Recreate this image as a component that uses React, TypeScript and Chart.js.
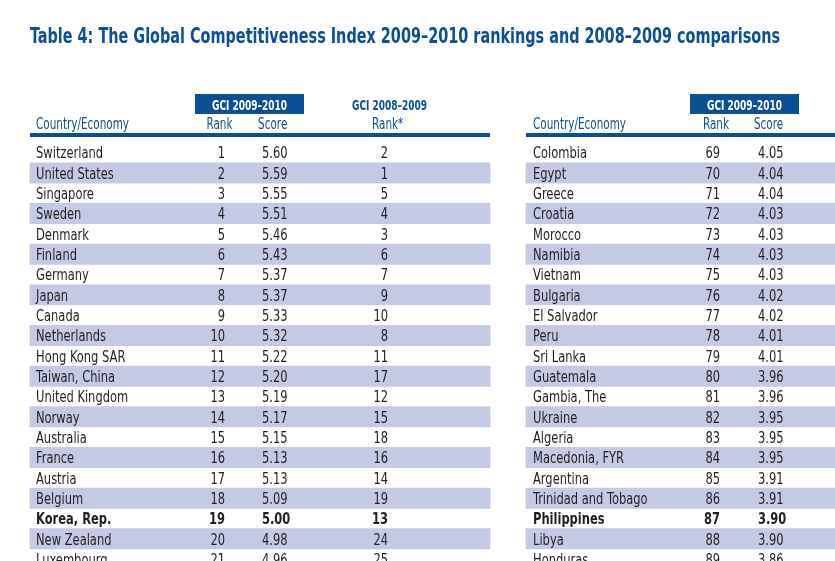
import React, { useEffect, useRef } from "react";
import { Chart, registerables } from "chart.js";
Chart.register(...registerables);

const TITLE = "Table 4: The Global Competitiveness Index 2009–2010 rankings and 2008–2009 comparisons";
const GROUP_CUR = "GCI 2009–2010";
const GROUP_PREV = "GCI 2008–2009";
const COL_COUNTRY = "Country/Economy";
const COL_RANK = "Rank";
const COL_SCORE = "Score";
const COL_PREV_RANK = "Rank*";

const leftCountries = [
  "Switzerland", "United States", "Singapore", "Sweden", "Denmark", "Finland", "Germany",
  "Japan", "Canada", "Netherlands", "Hong Kong SAR", "Taiwan, China", "United Kingdom",
  "Norway", "Australia", "France", "Austria", "Belgium", "Korea, Rep.", "New Zealand", "Luxembourg",
];
const leftRank = [1, 2, 3, 4, 5, 6, 7, 8, 9, 10, 11, 12, 13, 14, 15, 16, 17, 18, 19, 20, 21];
const leftScore = [5.60, 5.59, 5.55, 5.51, 5.46, 5.43, 5.37, 5.37, 5.33, 5.32, 5.22, 5.20, 5.19, 5.17, 5.15, 5.13, 5.13, 5.09, 5.00, 4.98, 4.96];
const leftPrevRank = [2, 1, 5, 4, 3, 6, 7, 9, 10, 8, 11, 17, 12, 15, 18, 16, 14, 19, 13, 24, 25];

const rightCountries = [
  "Colombia", "Egypt", "Greece", "Croatia", "Morocco", "Namibia", "Vietnam", "Bulgaria",
  "El Salvador", "Peru", "Sri Lanka", "Guatemala", "Gambia, The", "Ukraine", "Algeria",
  "Macedonia, FYR", "Argentina", "Trinidad and Tobago", "Philippines", "Libya", "Honduras",
];
const rightRank = [69, 70, 71, 72, 73, 74, 75, 76, 77, 78, 79, 80, 81, 82, 83, 84, 85, 86, 87, 88, 89];
const rightScore = [4.05, 4.04, 4.04, 4.03, 4.03, 4.03, 4.03, 4.02, 4.02, 4.01, 4.01, 3.96, 3.96, 3.95, 3.95, 3.95, 3.91, 3.91, 3.90, 3.90, 3.86];

const boldCountries = ["Korea, Rep.", "Philippines"];

// ---- layout (pixels) ----
const W = 835;
const H = 561;
const ROW_TOP = 142.4;
const ROW_H = 20.33;
const BLUE = "#0c4f97";
const STRIPE = "#c4cae4";
const INK = "#231f20";
const FONT_FAMILY = '"Liberation Sans Narrow", "DejaVu Sans Condensed", "Roboto Condensed", Roboto, "Liberation Sans", sans-serif';

const LEFT = { x0: 30, x1: 490, country: 36, rankR: 225, scoreL: 262, prevRankR: 388, box0: 195, box1: 304, rankC: 219.5, scoreC: 272.7, prevHdrL: 372, prevGroupC: 389.5 };
const RIGHT = { x0: 526, x1: 835, country: 533, rankR: 720, scoreL: 758, box0: 690, box1: 799, rankC: 716, scoreC: 768.5 };

const yMin = -0.5 - ROW_TOP / ROW_H;
const yMax = yMin + H / ROW_H;

function font(size: number, bold = false) {
  return `${bold ? "bold " : ""}${size}px ${FONT_FAMILY}`;
}

function drawText(ctx: CanvasRenderingContext2D, text: string, x: number, y: number, align: CanvasTextAlign, f: string, color: string, sx: number) {
  ctx.save();
  ctx.font = f;
  ctx.fillStyle = color;
  ctx.textAlign = align;
  ctx.textBaseline = "alphabetic";
  ctx.translate(x, y);
  ctx.scale(sx, 1);
  ctx.fillText(text, 0, 0);
  ctx.restore();
}

function fitScale(ctx: CanvasRenderingContext2D, text: string, f: string, target: number) {
  ctx.save();
  ctx.font = f;
  const w = ctx.measureText(text).width;
  ctx.restore();
  return w > 0 ? target / w : 1;
}

const tablePlugin = {
  id: "tableText",
  afterDatasetsDraw(chart: any) {
    const ctx: CanvasRenderingContext2D = chart.ctx;
    const xs = chart.scales.x;
    const ys = chart.scales.y;
    const px = (v: number) => xs.getPixelForValue(v);

    const fTitle = font(21, true);
    const fHead = font(14, true);
    const fSub = font(15);
    const fBody = font(15);
    const fBodyB = font(15, true);
    const sTitle = fitScale(ctx, TITLE, fTitle, 750);
    const sHead = fitScale(ctx, GROUP_CUR, fHead, 75);
    const sSub = fitScale(ctx, COL_COUNTRY, fSub, 93);
    const sBody = fitScale(ctx, "Switzerland", fBody, 67);

    drawText(ctx, TITLE, px(30), 43.3, "left", fTitle, BLUE, sTitle);

    ctx.save();
    ctx.fillStyle = BLUE;
    ctx.fillRect(px(LEFT.box0), 94, px(LEFT.box1) - px(LEFT.box0), 20);
    ctx.fillRect(px(RIGHT.box0), 94, px(RIGHT.box1) - px(RIGHT.box0), 20);
    ctx.fillRect(px(LEFT.x0), 133, px(LEFT.x1) - px(LEFT.x0), 4);
    ctx.fillRect(px(RIGHT.x0), 133, px(RIGHT.x1) - px(RIGHT.x0), 4);
    ctx.restore();

    drawText(ctx, GROUP_CUR, (px(LEFT.box0) + px(LEFT.box1)) / 2, 110, "center", fHead, "#ffffff", sHead);
    drawText(ctx, GROUP_CUR, (px(RIGHT.box0) + px(RIGHT.box1)) / 2, 110, "center", fHead, "#ffffff", sHead);
    drawText(ctx, GROUP_PREV, px(LEFT.prevGroupC), 110, "center", fHead, BLUE, sHead);

    const subY = 129.3;
    drawText(ctx, COL_COUNTRY, px(LEFT.country), subY, "left", fSub, BLUE, sSub);
    drawText(ctx, COL_RANK, px(LEFT.rankC), subY, "center", fSub, BLUE, sSub);
    drawText(ctx, COL_SCORE, px(LEFT.scoreC), subY, "center", fSub, BLUE, sSub);
    drawText(ctx, COL_PREV_RANK, px(LEFT.prevHdrL), subY, "left", fSub, BLUE, sSub);
    drawText(ctx, COL_COUNTRY, px(RIGHT.country), subY, "left", fSub, BLUE, sSub);
    drawText(ctx, COL_RANK, px(RIGHT.rankC), subY, "center", fSub, BLUE, sSub);
    drawText(ctx, COL_SCORE, px(RIGHT.scoreC), subY, "center", fSub, BLUE, sSub);

    leftCountries.forEach((name, i) => {
      const y = ys.getPixelForValue(i) + 5.7;
      const f = boldCountries.includes(name) ? fBodyB : fBody;
      drawText(ctx, name, px(LEFT.country), y, "left", f, INK, sBody);
      drawText(ctx, String(leftRank[i]), px(LEFT.rankR), y, "right", f, INK, sBody);
      drawText(ctx, leftScore[i].toFixed(2), px(LEFT.scoreL), y, "left", f, INK, sBody);
      drawText(ctx, String(leftPrevRank[i]), px(LEFT.prevRankR), y, "right", f, INK, sBody);
    });
    rightCountries.forEach((name, i) => {
      const y = ys.getPixelForValue(i) + 5.7;
      const f = boldCountries.includes(name) ? fBodyB : fBody;
      drawText(ctx, name, px(RIGHT.country), y, "left", f, INK, sBody);
      drawText(ctx, String(rightRank[i]), px(RIGHT.rankR), y, "right", f, INK, sBody);
      drawText(ctx, rightScore[i].toFixed(2), px(RIGHT.scoreL), y, "left", f, INK, sBody);
    });
  },
};

export default function App() {
  const ref = useRef<HTMLCanvasElement | null>(null);
  useEffect(() => {
    if (!ref.current) return;
    const stripes: { x: [number, number]; y: number }[] = [];
    leftCountries.forEach((_, i) => {
      if (i % 2 === 1) stripes.push({ x: [LEFT.x0, LEFT.x1], y: i });
    });
    const rightStripes: { x: [number, number]; y: number }[] = [];
    rightCountries.forEach((_, i) => {
      if (i % 2 === 1) rightStripes.push({ x: [RIGHT.x0, RIGHT.x1], y: i });
    });
    const chart = new Chart(ref.current, {
      type: "bar",
      data: {
        datasets: [
          { label: "left", data: stripes as any, backgroundColor: STRIPE, borderWidth: 0, barThickness: ROW_H, grouped: false } as any,
          { label: "right", data: rightStripes as any, backgroundColor: STRIPE, borderWidth: 0, barThickness: ROW_H, grouped: false } as any,
        ],
      },
      options: {
        indexAxis: "y",
        animation: false,
        responsive: false,
        events: [],
        layout: { padding: 0 },
        plugins: { legend: { display: false }, tooltip: { enabled: false }, title: { display: false } },
        scales: {
          x: { type: "linear", display: false, min: 0, max: W, offset: false },
          y: { type: "linear", display: false, min: yMin, max: yMax, reverse: true, offset: false },
        },
      },
      plugins: [tablePlugin],
    });
    return () => chart.destroy();
  }, []);
  return (
    <div style={{ position: "fixed", left: 0, top: 0, width: W, height: H, background: "#fff" }}>
      <canvas ref={ref} width={W} height={H} style={{ display: "block", width: W, height: H }} />
    </div>
  );
}
